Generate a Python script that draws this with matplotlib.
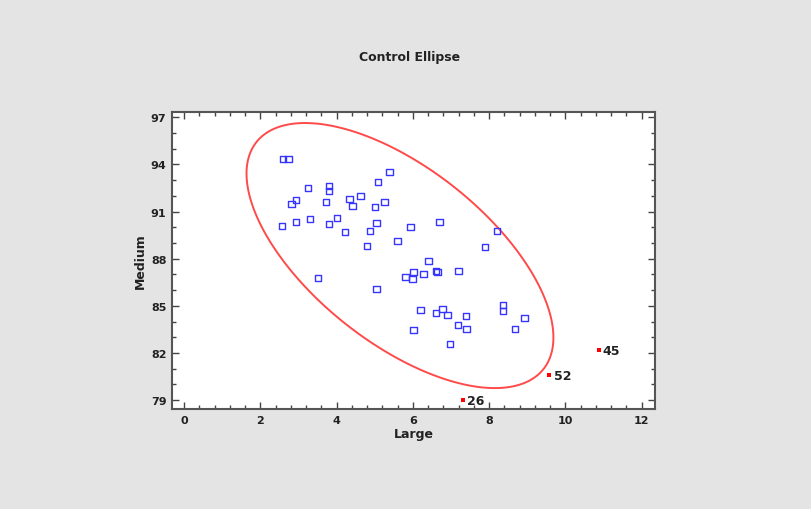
import numpy as np
import matplotlib
matplotlib.use("Agg")
import matplotlib.pyplot as plt
from matplotlib.ticker import MultipleLocator
from matplotlib.patches import Polygon

# Data
large = [2.59, 2.74, 3.25, 3.80, 3.80, 2.93, 2.82, 3.72, 2.56, 2.93,
         3.30, 3.80, 4.01, 4.22, 4.33, 4.41, 4.62, 5.09, 5.38, 5.01,
         5.25, 5.04, 4.88, 4.80, 5.59, 5.94, 6.70, 8.21, 7.89, 6.41,
         5.80, 6.02, 5.99, 6.28, 6.60, 6.65, 7.20, 6.20, 6.60, 6.78,
         6.91, 7.39, 7.18, 7.41, 6.02, 6.97, 3.51, 5.04, 8.36, 8.36,
         8.92, 8.68]
medium = [94.34, 94.34, 92.50, 92.62, 92.31, 91.73, 91.48, 91.61, 90.08, 90.33,
          90.52, 90.21, 90.59, 89.69, 91.80, 91.35, 91.99, 92.88, 93.52, 91.29,
          91.61, 90.27, 89.76, 88.81, 89.12, 90.01, 90.33, 89.76, 88.74, 87.85,
          86.83, 87.15, 86.70, 87.02, 87.21, 87.15, 87.21, 84.73, 84.54, 84.79,
          84.41, 84.34, 83.77, 83.52, 83.45, 82.56, 86.76, 86.06, 85.04, 84.66,
          84.22, 83.52]

out_labels = ["26", "52", "45"]
out_large = [7.31, 9.58, 10.87]
out_medium = [79.0, 80.59, 82.18]

# Ellipse parameters (center, shape matrix)
ell_center = [5.66, 88.2]
ell_shape = [[16.2, -21.0], [-21.0, 71.2]]

xticks = [0, 2, 4, 6, 8, 10, 12]
yticks = [79, 82, 85, 88, 91, 94, 97]

W, H = 812, 510
fig = plt.figure(figsize=(W / 100, H / 100), dpi=100)
fig.patch.set_facecolor("#e4e4e4")

ax = fig.add_axes([172 / W, (H - 410) / H, (655 - 172) / W, (410 - 113) / H])
ax.set_facecolor("white")

# Ellipse
S = np.array(ell_shape)
L = np.linalg.cholesky(S)
t = np.linspace(0, 2 * np.pi, 400, endpoint=False)
u = np.vstack([np.cos(t), np.sin(t)])
pts = L @ u
verts = np.column_stack([ell_center[0] + pts[0], ell_center[1] + pts[1]])
ax.add_patch(Polygon(verts, closed=True, fill=False, edgecolor="#ff4a4a", lw=1.4, zorder=2))

ax.scatter(large, medium, marker="s", s=22, facecolors="none", edgecolors="#3535ff",
           linewidths=1.0, zorder=3)
ax.scatter(out_large, out_medium, marker="s", s=10, color="#ff0000", zorder=4, linewidths=0)
for lab, xv, yv in zip(out_labels, out_large, out_medium):
    ax.annotate(lab, (xv, yv), xytext=(3, 0), textcoords="offset points",
                ha="left", va="center", fontsize=9, fontweight="bold", color="#222222")

ax.set_xlim(-0.32, 12.35)
ax.set_ylim(78.43, 97.34)
ax.set_xticks(xticks)
ax.set_yticks(yticks)
ax.xaxis.set_minor_locator(MultipleLocator(0.4))
ax.yaxis.set_minor_locator(MultipleLocator(1))
ax.tick_params(which="both", direction="in", top=True, right=True, color="#444444",
               labelsize=8, pad=4)
ax.tick_params(which="major", length=5, width=1)
ax.tick_params(which="minor", length=3, width=1)
for lbl in ax.get_xticklabels() + ax.get_yticklabels():
    lbl.set_fontweight("bold")
    lbl.set_color("#222222")
for sp in ax.spines.values():
    sp.set_color("#555555")
    sp.set_linewidth(1.5)

ax.set_xlabel("Large", fontsize=9, fontweight="bold", color="#222222", labelpad=2)
ax.set_ylabel("Medium", fontsize=9, fontweight="bold", color="#222222", labelpad=3)
fig.text(410 / W, 1 - 58 / H, "Control Ellipse", ha="center", va="center",
         fontsize=9, fontweight="bold", color="#222222")

fig.savefig("out.png", dpi=100, facecolor=fig.get_facecolor())
